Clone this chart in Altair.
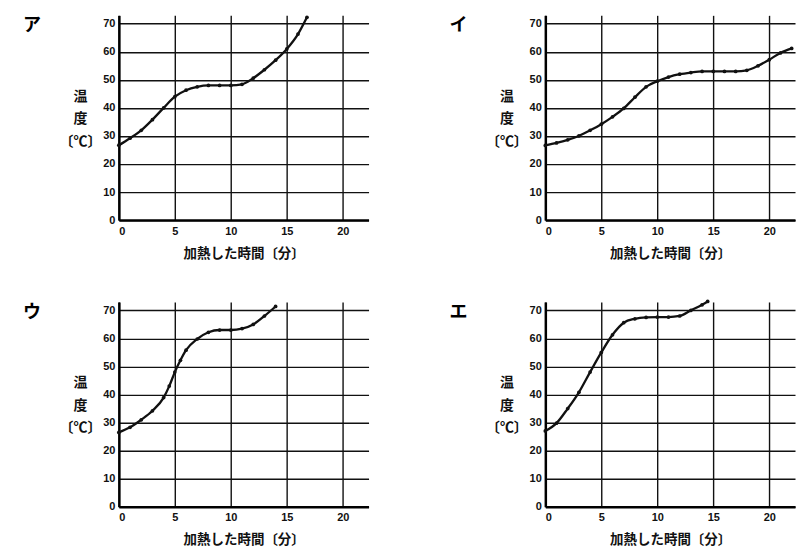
import altair as alt
import pandas as pd

# Panel labels
labels = ["ア", "イ", "ウ", "エ"]

# ア
a_t = [0, 1, 2, 3, 4, 5, 6, 7, 8, 9, 10, 11, 12, 13, 14, 15, 16, 16.8]
a_v = [26.7, 29.2, 32, 35.8, 40, 44, 46.3, 47.5, 48, 48, 48, 48.4, 50.6, 53.6, 57, 61, 66.3, 72.3]
# イ
i_t = [0, 1, 2, 3, 4, 5, 6, 7, 8, 9, 10, 11, 12, 13, 14, 15, 16, 17, 18, 19, 20, 21, 22]
i_v = [26.6, 27.5, 28.6, 30, 32, 34.2, 36.8, 39.8, 43.8, 47.5, 49.5, 51, 52, 52.6, 53, 53, 53, 53, 53.4, 55, 57.2, 59.6, 61.2]
# ウ
u_t = [0, 1, 2, 3, 4, 4.5, 5, 5.5, 6, 7, 8, 9, 10, 11, 12, 13, 14]
u_v = [26.5, 28.3, 31, 34.2, 38.9, 43, 48, 52.2, 55.8, 59.8, 62.2, 63, 63, 63.5, 65, 68, 71.4]
# エ
e_t = [0, 1, 2, 3, 4, 5, 6, 7, 8, 9, 10, 11, 12, 13, 14, 14.5]
e_v = [27, 29.8, 35, 40.8, 48, 55, 61.3, 65.6, 67, 67.5, 67.6, 67.6, 68, 70, 72, 73.2]

x_ticks = [0, 5, 10, 15, 20]
y_ticks = [0, 10, 20, 30, 40, 50, 60, 70]
x_title = "加熱した時間〔分〕"
y_title = ["温", "度", "〔℃〕"]

W, H = 250, 205
JP = "Noto Sans CJK JP"
NUM = "Liberation Sans"


def panel(label, t, v):
    df = pd.DataFrame({"t": t, "v": v})
    xenc = alt.X("t:Q", scale=alt.Scale(domain=[0, 22.3], nice=False, zero=False),
                 axis=alt.Axis(values=x_ticks, title=x_title, grid=True,
                               gridColor="#111", gridWidth=1.4, gridOpacity=1,
                               domainColor="#000", domainWidth=2.5,
                               ticks=False, tickSize=0, labelPadding=5,
                               labelFont=NUM, labelFontSize=11, labelFontWeight="bold",
                               labelColor="#111", titleFont=JP, titleFontSize=13.5,
                               titleFontWeight="bold", titleColor="#111", titlePadding=10))
    yenc = alt.Y("v:Q", scale=alt.Scale(domain=[0, 73], nice=False, zero=False),
                 axis=alt.Axis(values=y_ticks, title=y_title, grid=True,
                               gridColor="#111", gridWidth=1.4, gridOpacity=1,
                               domainColor="#000", domainWidth=2.5,
                               ticks=False, tickSize=0, labelPadding=4,
                               labelOverlap=False,
                               labelFont=NUM, labelFontSize=11, labelFontWeight="bold",
                               labelColor="#111", titleFont=JP, titleFontSize=14,
                               titleFontWeight="bold", titleColor="#111",
                               titleAngle=0, titleAlign="center", titleBaseline="top",
                               titleX=-39, titleY=74, titleLineHeight=22.5))
    base = alt.Chart(df)
    line = base.mark_line(color="#111", strokeWidth=2.3, interpolate="monotone").encode(x=xenc, y=yenc)
    pts = base.mark_point(filled=True, color="#111", size=14, opacity=1).encode(x=xenc, y=yenc)
    lab = alt.Chart(pd.DataFrame({"label": [label]})).mark_text(
        font=JP, fontSize=18, fontWeight="bold", color="#000", align="center", baseline="middle"
    ).encode(x=alt.value(-87), y=alt.value(11), text="label:N")
    return alt.layer(line, pts, lab).properties(width=W, height=H)


pa = panel(labels[0], a_t, a_v)
pi = panel(labels[1], i_t, i_v)
pu = panel(labels[2], u_t, u_v)
pe = panel(labels[3], e_t, e_v)

chart = alt.vconcat(
    alt.hconcat(pa, pi, spacing=81),
    alt.hconcat(pu, pe, spacing=81),
    spacing=36,
).properties(
    padding={"left": 15, "top": 4, "right": 5, "bottom": 5}, background="white"
).configure_view(strokeWidth=0)

chart.save("out.html", embed_options={"renderer": "svg", "actions": False})
